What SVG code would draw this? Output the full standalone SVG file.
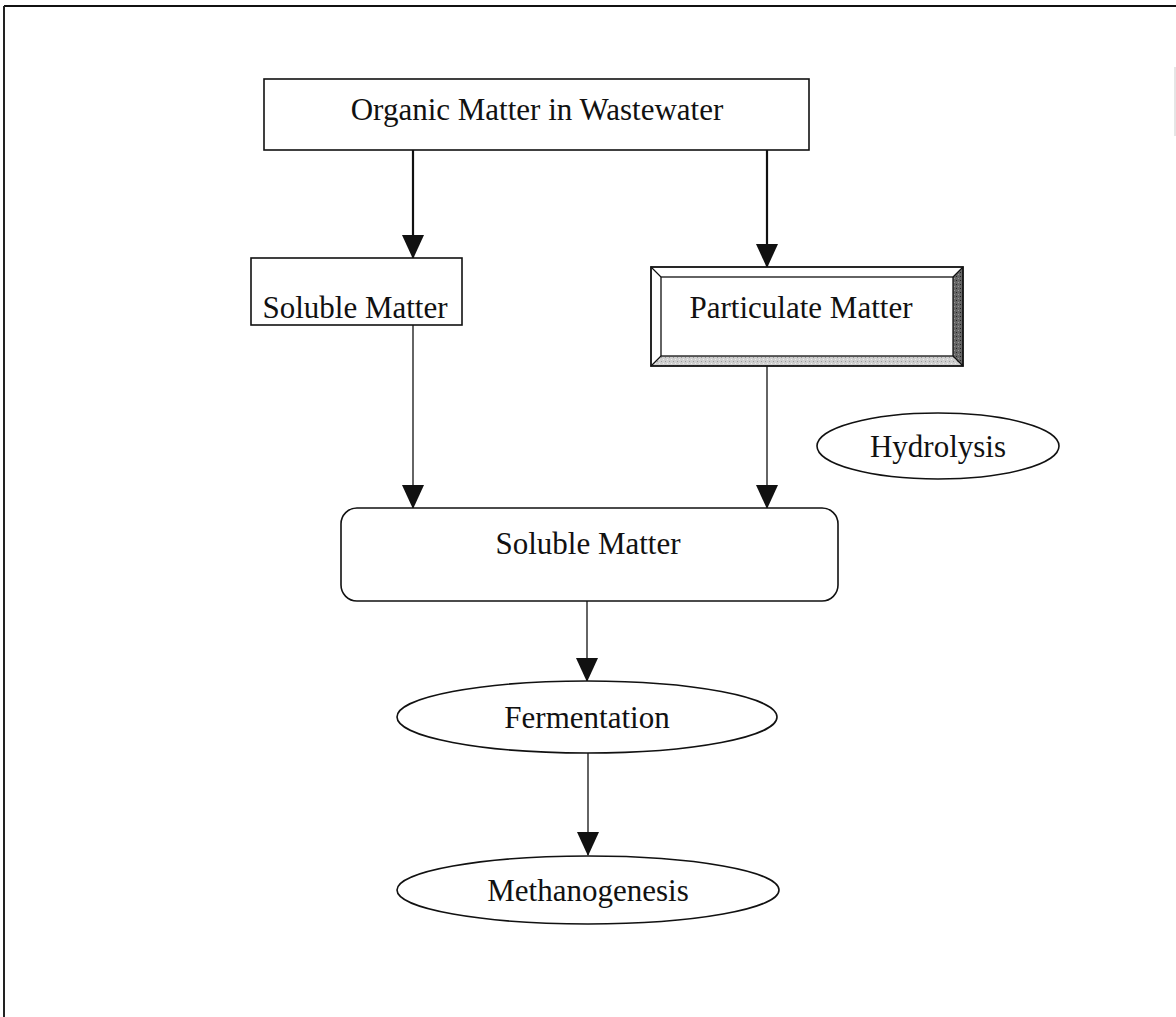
<svg xmlns="http://www.w3.org/2000/svg" width="1176" height="1017" viewBox="0 0 1176 1017">
<style>
.box{fill:#fff;stroke:#111;stroke-width:1.6}
.t{font-family:"Liberation Serif","Times New Roman",serif;font-size:31px;fill:#111;text-anchor:middle}
.c1{stroke:#111;stroke-width:2.2;fill:none}
.c2{stroke:#111;stroke-width:1.3;fill:none}
</style>
<defs>
<marker id="ahd" markerUnits="userSpaceOnUse" markerWidth="24" markerHeight="22" refX="23" refY="11" orient="auto" viewBox="0 0 24 22">
<path d="M0,0 L24,11 L0,22 Z" fill="#111"/>
</marker>
<pattern id="dk" width="4" height="4" patternUnits="userSpaceOnUse">
<rect width="4" height="4" fill="#666"/>
<rect x="0" y="0" width="1" height="1" fill="#222"/>
<rect x="2" y="2" width="1" height="1" fill="#999"/>
</pattern>
<pattern id="lt" width="4" height="4" patternUnits="userSpaceOnUse">
<rect width="4" height="4" fill="#cfcfcf"/>
<rect x="1" y="1" width="1" height="1" fill="#999"/>
<rect x="3" y="3" width="1" height="1" fill="#eee"/>
</pattern>
</defs>
<g id="frame">
<line x1="4" y1="6" x2="1176" y2="6" stroke="#111" stroke-width="2"/>
<line x1="4" y1="6" x2="4" y2="1017" stroke="#222" stroke-width="2"/>
<line x1="1175" y1="67" x2="1175" y2="136" stroke="#ccc" stroke-width="1"/>
</g>
<g id="connectors">
<line class="c1" x1="413" y1="150" x2="413" y2="258" marker-end="url(#ahd)"/>
<line class="c1" x1="767" y1="150" x2="767" y2="267" marker-end="url(#ahd)"/>
<line class="c2" x1="413" y1="325" x2="413" y2="508" marker-end="url(#ahd)"/>
<line class="c2" x1="767" y1="366" x2="767" y2="508" marker-end="url(#ahd)"/>
<line class="c2" x1="587" y1="601" x2="587" y2="681" marker-end="url(#ahd)"/>
<line class="c2" x1="588" y1="753" x2="588" y2="855" marker-end="url(#ahd)"/>
</g>
<g id="organic">
<rect class="box" x="264" y="79" width="545" height="71"/>
<text class="t" x="537" y="120">Organic Matter in Wastewater</text>
</g>
<g id="soluble1">
<rect class="box" x="251" y="258" width="211" height="67"/>
<text class="t" x="355" y="318">Soluble Matter</text>
</g>
<g id="particulate">
<rect x="651" y="267" width="312" height="99" fill="#fff"/>
<polygon points="953,277 963,267 963,366 953,356" fill="url(#dk)"/>
<polygon points="661,356 953,356 963,366 651,366" fill="url(#lt)"/>
<rect x="651" y="267" width="312" height="99" fill="none" stroke="#111" stroke-width="1.8"/>
<rect x="661" y="277" width="292" height="79" fill="none" stroke="#111" stroke-width="1.3"/>
<path d="M651,267 L661,277 M963,267 L953,277 M651,366 L661,356 M963,366 L953,356" stroke="#111" stroke-width="1.2"/>
<text class="t" x="801" y="318">Particulate Matter</text>
</g>
<g id="hydrolysis">
<ellipse class="box" cx="938" cy="446" rx="121" ry="33"/>
<text class="t" x="938" y="457">Hydrolysis</text>
</g>
<g id="soluble2">
<rect class="box" x="341" y="508" width="497" height="93" rx="16" ry="16"/>
<text class="t" x="588" y="554">Soluble Matter</text>
</g>
<g id="fermentation">
<ellipse class="box" cx="587" cy="717" rx="190" ry="36"/>
<text class="t" x="587" y="728">Fermentation</text>
</g>
<g id="methanogenesis">
<ellipse class="box" cx="588" cy="890" rx="191" ry="34"/>
<text class="t" x="588" y="901">Methanogenesis</text>
</g>
</svg>
